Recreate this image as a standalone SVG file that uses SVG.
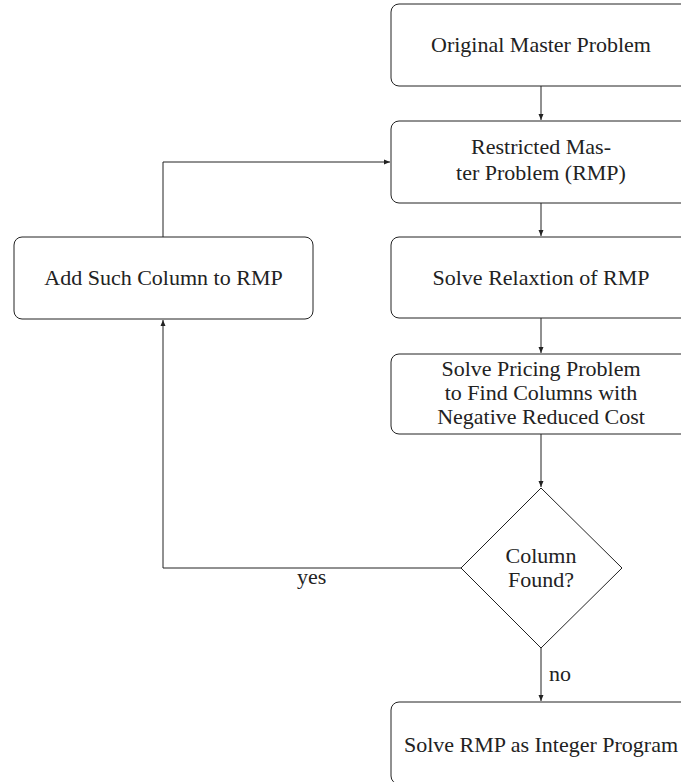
<svg xmlns="http://www.w3.org/2000/svg" width="681" height="782" viewBox="0 0 681 782">
<style>
.box{fill:#fff;stroke:#222;stroke-width:1}
.c{fill:none;stroke:#222;stroke-width:1}
</style>
<defs>
<marker id="ah" markerWidth="7" markerHeight="6" refX="6" refY="3" orient="auto" markerUnits="userSpaceOnUse">
<path d="M0,0.5 L6,3 L0,5.5 Z" fill="#222"/>
</marker>
</defs>
<rect width="681" height="782" fill="#fff"/>
<g font-family="Liberation Serif, DejaVu Serif, serif" font-size="22" fill="#222">
<g id="connectors">
<line class="c" x1="541" y1="86" x2="541" y2="120" marker-end="url(#ah)"/>
<line class="c" x1="541" y1="203" x2="541" y2="236" marker-end="url(#ah)"/>
<line class="c" x1="541" y1="318" x2="541" y2="353" marker-end="url(#ah)"/>
<line class="c" x1="541" y1="434" x2="541" y2="487" marker-end="url(#ah)"/>
<polyline class="c" points="461,568 163,568 163,320" marker-end="url(#ah)"/>
<polyline class="c" points="163,237 163,162 390,162" marker-end="url(#ah)"/>
<line class="c" x1="541" y1="648" x2="541" y2="701" marker-end="url(#ah)"/>
<text x="297" y="584">yes</text>
<text x="549" y="681">no</text>
</g>
<g text-anchor="middle">
<g id="original">
<rect class="box" x="391" y="4" width="300" height="82" rx="8"/>
<text x="541" y="52">Original Master Problem</text>
</g>
<g id="rmp">
<rect class="box" x="391" y="121" width="300" height="82" rx="8"/>
<text x="541" y="154">Restricted Mas-</text>
<text x="541" y="180">ter Problem (RMP)</text>
</g>
<g id="relax">
<rect class="box" x="391" y="237" width="300" height="81" rx="8"/>
<text x="541" y="285">Solve Relaxtion of RMP</text>
</g>
<g id="pricing">
<rect class="box" x="391" y="354" width="300" height="80" rx="8"/>
<text x="541" y="376">Solve Pricing Problem</text>
<text x="541" y="400">to Find Columns with</text>
<text x="541" y="424">Negative Reduced Cost</text>
</g>
<g id="add">
<rect class="box" x="14" y="237" width="299" height="82" rx="8"/>
<text x="163.5" y="285">Add Such Column to RMP</text>
</g>
<g id="decision">
<polygon class="box" points="541,488 622,568 541,648 461,568"/>
<text x="541" y="563">Column</text>
<text x="541" y="587">Found?</text>
</g>
<g id="integer">
<rect class="box" x="391" y="702" width="300" height="82" rx="8"/>
<text x="541" y="752">Solve RMP as Integer Program</text>
</g>
</g>
</g>
</svg>
